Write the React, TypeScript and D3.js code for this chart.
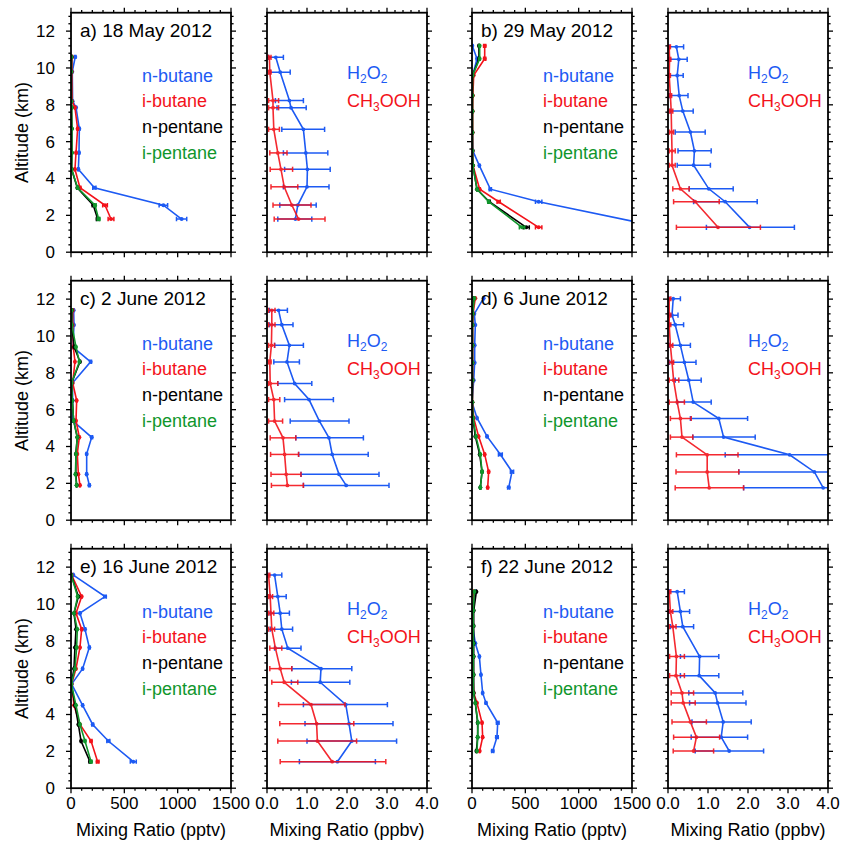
import React from "react";
import * as d3 from "d3";

// ---------------- Titles ----------------
const panelTitles = ["a) 18 May 2012", "b) 29 May 2012", "c) 2 June 2012", "d) 6 June 2012", "e) 16 June 2012", "f) 22 June 2012"];
const hcLegend = ["n-butane", "i-butane", "n-pentane", "i-pentane"];

// ---------------- Axis ticks ----------------
const yMajor = [0, 2, 4, 6, 8, 10, 12];
const yMinor = [0.4, 0.8, 1.2, 1.6, 2.4, 2.8, 3.2, 3.6, 4.4, 4.8, 5.2, 5.6, 6.4, 6.8, 7.2, 7.6, 8.4, 8.8, 9.2, 9.6, 10.4, 10.8, 11.2, 11.6, 12.4, 12.8];
const pptvMajor = [0, 500, 1000, 1500];
const pptvMinor = [100, 200, 300, 400, 600, 700, 800, 900, 1100, 1200, 1300, 1400];
const ppbvMajor = [0, 1, 2, 3, 4];
const ppbvMinor = [0.2, 0.4, 0.6, 0.8, 1.2, 1.4, 1.6, 1.8, 2.2, 2.4, 2.6, 2.8, 3.2, 3.4, 3.6, 3.8];
const pptvLabels = ["0", "500", "1000", "1500"];
const ppbvLabels = ["0.0", "1.0", "2.0", "3.0", "4.0"];

// ---------------- Hydrocarbons (pptv) ----------------
// a) 18 May
const hcAltA = [10.6, 9.8, 8.2, 7.85, 6.7, 5.4, 4.5, 3.5, 2.55, 1.8];
const nButA = [40, 12, 15, 47, 78, 75, 69, 219, 866, 1037];
const nButErrA = [6, 3, 3, 5, 6, 6, 5, 15, 40, 48];
const iButA = [10, 8, 10, 37, 62, 47, 37, 84, 319, 375];
const iButErrA = [3, 2, 2, 4, 5, 4, 4, 8, 22, 27];
const nPenA = [5, 3, 3, 5, 8, 8, 6, 59, 209, 250];
const nPenErrA = [1, 1, 1, 1, 1, 1, 1, 5, 10, 12];
const iPenA = [5, 3, 3, 6, 8, 9, 6, 62, 225, 259];
const iPenErrA = [1, 1, 1, 1, 1, 1, 1, 5, 10, 12];
// b) 29 May
const hcAltB = [11.2, 10.5, 9.6, 8.5, 7.65, 6.5, 5.5, 4.7, 3.42, 2.74, 1.35];
const nButB = [3, 47, 6, 2, 0, 3, 8, 69, 172, 625, 1783];
const nButErrB = [3, 5, 2, 1, 1, 1, 2, 5, 10, 30, 60];
const iButB = [119, 119, 16, 8, 6, 6, 6, 10, 72, 250, 625];
const iButErrB = [10, 10, 2, 1, 1, 1, 1, 2, 5, 15, 30];
const nPenB = [65, 65, 5, 4, 4, 4, 4, 8, 47, 162, 509];
const nPenErrB = [4, 4, 1, 1, 1, 1, 1, 1, 3, 8, 28];
const iPenB = [72, 72, 5, 4, 4, 4, 4, 8, 47, 156, 469];
const iPenErrB = [4, 4, 1, 1, 1, 1, 1, 1, 3, 8, 25];
// c) 2 June
const hcAltC = [11.4, 10.6, 9.4, 8.6, 7.45, 6.5, 5.4, 4.5, 3.6, 2.5, 1.9];
const nButC = [25, 28, 18, 184, 14, 16, 14, 194, 147, 147, 172];
const nButErrC = [3, 3, 2, 8, 2, 2, 2, 8, 6, 6, 7];
const iButC = [16, 16, 22, 37, 16, 53, 47, 78, 59, 69, 84];
const iButErrC = [2, 2, 2, 3, 2, 3, 3, 4, 3, 3, 4];
const nPenC = [8, 6, 30, 84, 6, 12, 25, 59, 45, 45, 53];
const nPenErrC = [1, 1, 2, 4, 1, 1, 2, 3, 2, 2, 3];
const iPenC = [6, 8, 47, 78, 6, 12, 25, 59, 47, 41, 53];
const iPenErrC = [1, 1, 3, 4, 1, 1, 2, 3, 2, 2, 3];
// d) 6 June
const hcAltD = [12.05, 11.2, 10.6, 9.5, 8.55, 7.6, 6.4, 5.55, 4.55, 3.57, 2.63, 1.77];
const nButD = [109, 22, 31, 25, 25, 16, 0, 47, 141, 266, 375, 344];
const nButErrD = [5, 2, 2, 2, 2, 2, 1, 3, 6, 18, 15, 10];
const iButD = [31, 10, 6, 6, 6, 6, 4, 16, 62, 119, 156, 147];
const iButErrD = [2, 1, 1, 1, 1, 1, 1, 2, 3, 6, 7, 6];
const nPenD = [16, 6, 4, 4, 4, 4, 3, 8, 31, 72, 94, 78];
const nPenErrD = [1, 1, 1, 1, 1, 1, 1, 1, 2, 4, 5, 4];
const iPenD = [22, 6, 4, 4, 4, 4, 3, 10, 37, 78, 94, 78];
const iPenErrD = [1, 1, 1, 1, 1, 1, 1, 1, 2, 4, 5, 4];
// e) 16 June
const hcAltE = [11.57, 10.4, 9.5, 8.63, 7.64, 6.49, 5.65, 4.5, 3.46, 2.56, 1.44];
const nButE = [22, 319, 84, 131, 172, 109, 6, 109, 203, 350, 584];
const nButErrE = [2, 12, 4, 6, 7, 5, 1, 5, 8, 14, 28];
const iButE = [6, 100, 47, 100, 84, 47, 6, 28, 84, 188, 250];
const iButErrE = [1, 5, 3, 5, 4, 3, 1, 2, 4, 8, 12];
const nPenE = [2, 69, 28, 47, 37, 28, 3, 37, 69, 94, 178];
const nPenErrE = [1, 3, 2, 3, 2, 2, 1, 2, 3, 4, 8];
const iPenE = [2, 62, 28, 59, 53, 37, 4, 47, 84, 131, 188];
const iPenErrE = [1, 3, 2, 3, 3, 2, 1, 2, 4, 6, 9];
// f) 22 June
const hcAltF = [10.67, 9.64, 8.81, 7.87, 7.15, 6.16, 5.17, 4.63, 3.55, 2.77, 2.02];
const nButF = [31, 6, 6, 31, 69, 84, 100, 131, 241, 234, 194];
const nButErrF = [3, 1, 1, 2, 4, 4, 5, 6, 12, 12, 10];
const iButF = [16, 9, 9, 9, 9, 9, 16, 47, 94, 100, 72];
const iButErrF = [2, 1, 1, 1, 1, 1, 1, 3, 5, 5, 4];
const nPenF = [41, 16, 16, 16, 16, 16, 16, 31, 53, 53, 41];
const nPenErrF = [2, 1, 1, 1, 1, 1, 1, 2, 3, 3, 2];
const iPenF = [22, 12, 12, 12, 12, 12, 12, 31, 56, 53, 47];
const iPenErrF = [2, 1, 1, 1, 1, 1, 1, 2, 3, 3, 2];

// ---------------- Peroxides (ppbv) ----------------
// a) 18 May
const pxAltA = [10.58, 9.77, 8.23, 7.84, 6.67, 5.39, 4.5, 3.55, 2.56, 1.8];
const h2o2A = [0.22, 0.33, 0.56, 0.6, 0.91, 0.97, 1.01, 1.0, 0.77, 0.71];
const h2o2LoA = [0.04, 0.08, 0.21, 0.25, 0.37, 0.41, 0.44, 0.41, 0.32, 0.27];
const h2o2HiA = [0.41, 0.58, 0.91, 0.98, 1.44, 1.52, 1.58, 1.55, 1.23, 1.12];
const mhpA = [0.06, 0.07, 0.15, 0.15, 0.17, 0.27, 0.35, 0.43, 0.62, 0.79];
const mhpLoA = [0.04, 0.04, 0.04, 0.04, 0.04, 0.07, 0.08, 0.1, 0.15, 0.18];
const mhpHiA = [0.1, 0.1, 0.29, 0.29, 0.31, 0.5, 0.64, 0.77, 1.1, 1.45];
// b) 29 May
const pxAltB = [11.15, 10.47, 9.59, 8.5, 7.66, 6.52, 5.5, 4.72, 3.44, 2.74, 1.35];
const h2o2B = [0.21, 0.27, 0.23, 0.28, 0.37, 0.56, 0.66, 0.64, 1.02, 1.43, 2.04];
const h2o2LoB = [0.03, 0.04, 0.03, 0.04, 0.06, 0.18, 0.25, 0.23, 0.53, 0.64, 0.96];
const h2o2HiB = [0.39, 0.48, 0.38, 0.5, 0.63, 0.93, 1.08, 1.06, 1.63, 2.23, 3.16];
const mhpB = [0.03, 0.04, 0.03, 0.06, 0.08, 0.09, 0.1, 0.1, 0.31, 0.68, 1.25];
const mhpLoB = [0.01, 0.01, 0.01, 0.02, 0.03, 0.03, 0.03, 0.03, 0.12, 0.14, 0.21];
const mhpHiB = [0.06, 0.07, 0.06, 0.09, 0.12, 0.14, 0.18, 0.18, 0.53, 1.28, 2.31];
// c) 2 June
const pxAltC = [11.39, 10.61, 9.49, 8.59, 7.42, 6.55, 5.38, 4.47, 3.57, 2.49, 1.89];
const h2o2C = [0.29, 0.37, 0.56, 0.5, 0.69, 1.05, 1.31, 1.55, 1.63, 1.8, 1.98];
const h2o2LoC = [0.06, 0.06, 0.19, 0.17, 0.27, 0.44, 0.58, 0.72, 0.79, 0.85, 0.91];
const h2o2HiC = [0.51, 0.65, 0.91, 0.81, 1.12, 1.66, 2.05, 2.41, 2.53, 2.8, 3.05];
const mhpC = [0.12, 0.12, 0.11, 0.07, 0.08, 0.17, 0.19, 0.4, 0.44, 0.48, 0.51];
const mhpLoC = [0.04, 0.04, 0.04, 0.04, 0.04, 0.04, 0.04, 0.08, 0.09, 0.1, 0.11];
const mhpHiC = [0.2, 0.2, 0.19, 0.1, 0.27, 0.32, 0.39, 0.72, 0.79, 0.85, 0.91];
// d) 6 June
const pxAltD = [12.02, 11.13, 10.61, 9.49, 8.57, 7.6, 6.41, 5.52, 4.51, 3.55, 2.62, 1.76];
const h2o2D = [0.13, 0.1, 0.18, 0.31, 0.41, 0.52, 0.63, 1.27, 1.39, 3.04, 3.66, 3.88];
const h2o2LoD = [0.02, 0.02, 0.03, 0.04, 0.04, 0.18, 0.23, 0.56, 0.62, 1.43, 1.77, 1.89];
const h2o2HiD = [0.31, 0.25, 0.39, 0.56, 0.7, 0.83, 1.08, 1.99, 2.18, 4.65, 5.55, 5.87];
const mhpD = [0.03, 0.03, 0.03, 0.06, 0.1, 0.14, 0.23, 0.31, 0.35, 0.98, 0.98, 1.03];
const mhpLoD = [0.01, 0.01, 0.01, 0.02, 0.02, 0.03, 0.03, 0.06, 0.06, 0.21, 0.2, 0.18];
const mhpHiD = [0.07, 0.07, 0.07, 0.12, 0.14, 0.27, 0.41, 0.58, 0.62, 1.75, 1.77, 1.89];
// e) 16 June
const pxAltE = [11.57, 10.4, 9.5, 8.63, 7.6, 6.49, 5.75, 4.54, 3.5, 2.56, 1.44];
const h2o2E = [0.19, 0.27, 0.33, 0.37, 0.52, 1.35, 1.33, 1.97, 2.05, 2.12, 1.76];
const h2o2LoE = [0.02, 0.08, 0.08, 0.08, 0.19, 0.62, 0.61, 0.91, 0.95, 1.0, 0.81];
const h2o2HiE = [0.37, 0.48, 0.56, 0.64, 0.85, 2.12, 2.07, 3.01, 3.15, 3.24, 2.71];
const mhpE = [0.04, 0.08, 0.1, 0.12, 0.21, 0.33, 0.43, 1.1, 1.24, 1.26, 1.63];
const mhpLoE = [0.02, 0.04, 0.04, 0.04, 0.07, 0.07, 0.12, 0.29, 0.32, 0.27, 0.33];
const mhpHiE = [0.07, 0.14, 0.17, 0.19, 0.37, 0.62, 0.77, 1.95, 2.17, 2.24, 2.97];
// f) 22 June
const pxAltF = [10.67, 9.59, 8.77, 7.15, 6.11, 5.17, 4.63, 3.6, 2.77, 2.02];
const h2o2F = [0.23, 0.31, 0.37, 0.79, 0.78, 1.18, 1.24, 1.38, 1.33, 1.53];
const h2o2LoF = [0.03, 0.03, 0.06, 0.31, 0.31, 0.52, 0.54, 0.6, 0.58, 0.68];
const h2o2HiF = [0.41, 0.54, 0.64, 1.27, 1.27, 1.87, 1.95, 2.08, 1.99, 2.39];
const mhpF = [0.03, 0.06, 0.12, 0.21, 0.2, 0.35, 0.38, 0.56, 0.71, 0.64];
const mhpLoF = [0.01, 0.02, 0.03, 0.04, 0.04, 0.08, 0.08, 0.1, 0.14, 0.13];
const mhpHiF = [0.07, 0.12, 0.2, 0.41, 0.41, 0.64, 0.68, 0.96, 1.29, 1.14];

// ---------------- Tables built from arrays ----------------
const hcPanels = [
  { alt: hcAltA, s: [[nButA, nButErrA], [iButA, iButErrA], [nPenA, nPenErrA], [iPenA, iPenErrA]] },
  { alt: hcAltB, s: [[nButB, nButErrB], [iButB, iButErrB], [nPenB, nPenErrB], [iPenB, iPenErrB]] },
  { alt: hcAltC, s: [[nButC, nButErrC], [iButC, iButErrC], [nPenC, nPenErrC], [iPenC, iPenErrC]] },
  { alt: hcAltD, s: [[nButD, nButErrD], [iButD, iButErrD], [nPenD, nPenErrD], [iPenD, iPenErrD]] },
  { alt: hcAltE, s: [[nButE, nButErrE], [iButE, iButErrE], [nPenE, nPenErrE], [iPenE, iPenErrE]] },
  { alt: hcAltF, s: [[nButF, nButErrF], [iButF, iButErrF], [nPenF, nPenErrF], [iPenF, iPenErrF]] },
];
const pxPanels = [
  { alt: pxAltA, s: [[h2o2A, h2o2LoA, h2o2HiA], [mhpA, mhpLoA, mhpHiA]] },
  { alt: pxAltB, s: [[h2o2B, h2o2LoB, h2o2HiB], [mhpB, mhpLoB, mhpHiB]] },
  { alt: pxAltC, s: [[h2o2C, h2o2LoC, h2o2HiC], [mhpC, mhpLoC, mhpHiC]] },
  { alt: pxAltD, s: [[h2o2D, h2o2LoD, h2o2HiD], [mhpD, mhpLoD, mhpHiD]] },
  { alt: pxAltE, s: [[h2o2E, h2o2LoE, h2o2HiE], [mhpE, mhpLoE, mhpHiE]] },
  { alt: pxAltF, s: [[h2o2F, h2o2LoF, h2o2HiF], [mhpF, mhpLoF, mhpHiF]] },
];

// ---------------- Style / layout ----------------
const FONT = '"Liberation Sans", Arial, Helvetica, sans-serif';
const BLUE = "#1d5af3";
const RED = "#f3121a";
const BLACK = "#000000";
const GREEN = "#10962c";
const hcColors = [BLUE, RED, BLACK, GREEN];
const pxColors = [BLUE, RED];

const colLeft = [71, 267, 472, 668];
const rowTop = [12.7, 280.7, 548.7];
const PW = 160;
const PH = 239.5;

function Frame({ left, top, xs, ys, xMaj, xMin, showY, xLabels }: any) {
  const right = left + PW;
  const bottom = top + PH;
  const maj = 5;
  const mnr = 2.6;
  const els: any[] = [];
  yMajor.forEach((v, i) => {
    const y = ys(v);
    els.push(<line key={"yl" + i} x1={left - maj} x2={left} y1={y} y2={y} />);
    els.push(<line key={"yr" + i} x1={right} x2={right + maj} y1={y} y2={y} />);
  });
  yMinor.forEach((v, i) => {
    const y = ys(v);
    els.push(<line key={"yml" + i} x1={left - mnr} x2={left} y1={y} y2={y} />);
    els.push(<line key={"ymr" + i} x1={right} x2={right + mnr} y1={y} y2={y} />);
  });
  xMaj.forEach((v: number, i: number) => {
    const x = xs(v);
    els.push(<line key={"xt" + i} x1={x} x2={x} y1={top - maj} y2={top} />);
    els.push(<line key={"xb" + i} x1={x} x2={x} y1={bottom} y2={bottom + maj} />);
  });
  xMin.forEach((v: number, i: number) => {
    const x = xs(v);
    els.push(<line key={"xmt" + i} x1={x} x2={x} y1={top - mnr} y2={top} />);
    els.push(<line key={"xmb" + i} x1={x} x2={x} y1={bottom} y2={bottom + mnr} />);
  });
  return (
    <g>
      <g stroke="#000" strokeWidth={1.3}>{els}</g>
      <rect x={left} y={top} width={PW} height={PH} fill="none" stroke="#000" strokeWidth={1.8} />
      {showY &&
        yMajor.map((v, i) => (
          <text key={"ytl" + i} x={left - 16} y={ys(v)} dy="0.35em" textAnchor="end" fontSize={17} fontFamily={FONT}>
            {v}
          </text>
        ))}
      {xLabels &&
        xMaj.map((v: number, i: number) => (
          <text key={"xtl" + i} x={xs(v)} y={bottom + 21} textAnchor="middle" fontSize={17} fontFamily={FONT}>
            {xLabels[i]}
          </text>
        ))}
    </g>
  );
}

function ErrBar({ x1, x2, y, color, cap }: any) {
  return (
    <g stroke={color} strokeWidth={1.5}>
      <line x1={x1} x2={x2} y1={y} y2={y} />
      <line x1={x1} x2={x1} y1={y - cap} y2={y + cap} />
      <line x1={x2} x2={x2} y1={y - cap} y2={y + cap} />
    </g>
  );
}

function HcPanel({ idx, row, col }: any) {
  const left = colLeft[col];
  const top = rowTop[row];
  const xs = d3.scaleLinear().domain([0, 1500]).range([left, left + PW]);
  const ys = d3.scaleLinear().domain([0, 13]).range([top + PH, top]);
  const p = hcPanels[idx];
  const clipId = "clip-hc-" + idx;
  const line = d3
    .line<[number, number]>()
    .x((d) => xs(d[0]))
    .y((d) => ys(d[1]));
  return (
    <g>
      <defs>
        <clipPath id={clipId}>
          <rect x={left} y={top} width={PW} height={PH} />
        </clipPath>
      </defs>
      <g clipPath={`url(#${clipId})`}>
        {p.s.map((ser: any, si: number) => {
          const vals: number[] = ser[0];
          const errs: number[] = ser[1];
          const pts: [number, number][] = vals.map((v, i) => [v, p.alt[i]]);
          return (
            <g key={si}>
              <path d={line(pts) || ""} fill="none" stroke={hcColors[si]} strokeWidth={1.6} />
              {vals.map((v, i) => (
                <ErrBar key={"e" + i} x1={xs(v - errs[i])} x2={xs(v + errs[i])} y={ys(p.alt[i])} color={hcColors[si]} cap={2.2} />
              ))}
              {vals.map((v, i) => (
                <circle key={"c" + i} cx={xs(v)} cy={ys(p.alt[i])} r={2} fill={hcColors[si]} />
              ))}
            </g>
          );
        })}
      </g>
      <Frame left={left} top={top} xs={xs} ys={ys} xMaj={pptvMajor} xMin={pptvMinor} showY={col === 0} xLabels={row === 2 ? pptvLabels : null} />
      <text x={left + 9} y={top + 24.5} fontSize={19} fontFamily={FONT}>
        {panelTitles[idx]}
      </text>
      {hcLegend.map((t, i) => (
        <text key={t} x={left + 71} y={top + 69 + 25.6 * i} fontSize={18} fontFamily={FONT} fill={hcColors[i]}>
          {t}
        </text>
      ))}
      {row === 2 && (
        <text x={left + PW / 2} y={top + PH + 48} textAnchor="middle" fontSize={18} fontFamily={FONT}>
          Mixing Ratio (pptv)
        </text>
      )}
      {col === 0 && (
        <text transform={`translate(22,${top + PH / 2}) rotate(-90)`} textAnchor="middle" dy="0.35em" fontSize={18} fontFamily={FONT}>
          Altitude (km)
        </text>
      )}
    </g>
  );
}

function PxPanel({ idx, row, col }: any) {
  const left = colLeft[col];
  const top = rowTop[row];
  const xs = d3.scaleLinear().domain([0, 4]).range([left, left + PW]);
  const ys = d3.scaleLinear().domain([0, 13]).range([top + PH, top]);
  const p = pxPanels[idx];
  const clipId = "clip-px-" + idx;
  const line = d3
    .line<[number, number]>()
    .x((d) => xs(d[0]))
    .y((d) => ys(d[1]));
  return (
    <g>
      <defs>
        <clipPath id={clipId}>
          <rect x={left} y={top} width={PW} height={PH} />
        </clipPath>
      </defs>
      <g clipPath={`url(#${clipId})`}>
        {p.s.map((ser: any, si: number) => {
          const vals: number[] = ser[0];
          const lo: number[] = ser[1];
          const hi: number[] = ser[2];
          const pts: [number, number][] = vals.map((v, i) => [v, p.alt[i]]);
          return (
            <g key={si} opacity={si === 1 ? 0.9 : 1}>
              {vals.map((v, i) => (
                <ErrBar key={"e" + i} x1={xs(lo[i])} x2={xs(hi[i])} y={ys(p.alt[i])} color={pxColors[si]} cap={2.6} />
              ))}
              <path d={line(pts) || ""} fill="none" stroke={pxColors[si]} strokeWidth={1.6} />
              {vals.map((v, i) => (
                <circle key={"c" + i} cx={xs(v)} cy={ys(p.alt[i])} r={1.9} fill={pxColors[si]} />
              ))}
            </g>
          );
        })}
      </g>
      <Frame left={left} top={top} xs={xs} ys={ys} xMaj={ppbvMajor} xMin={ppbvMinor} showY={false} xLabels={row === 2 ? ppbvLabels : null} />
      <text x={left + 80} y={top + 66.5} fontSize={18} fontFamily={FONT} fill={BLUE}>
        H<tspan fontSize={12} dy={4}>2</tspan>
        <tspan dy={-4}>O</tspan>
        <tspan fontSize={12} dy={4}>2</tspan>
      </text>
      <text x={left + 80} y={top + 94} fontSize={18} fontFamily={FONT} fill={RED}>
        CH<tspan fontSize={12} dy={4}>3</tspan>
        <tspan dy={-4}>OOH</tspan>
      </text>
      {row === 2 && (
        <text x={left + PW / 2} y={top + PH + 48} textAnchor="middle" fontSize={18} fontFamily={FONT}>
          Mixing Ratio (ppbv)
        </text>
      )}
    </g>
  );
}

export default function App() {
  const panels: any[] = [];
  for (let idx = 0; idx < 6; idx++) {
    const row = Math.floor(idx / 2);
    const pair = idx % 2;
    panels.push(<HcPanel key={"hc" + idx} idx={idx} row={row} col={pair * 2} />);
    panels.push(<PxPanel key={"px" + idx} idx={idx} row={row} col={pair * 2 + 1} />);
  }
  return (
    <svg
      width={845}
      height={846}
      viewBox="0 0 845 846"
      style={{ position: "absolute", left: 0, top: 0, background: "#fff", display: "block" }}
    >
      <rect x={0} y={0} width={845} height={846} fill="#fff" />
      {panels}
    </svg>
  );
}
